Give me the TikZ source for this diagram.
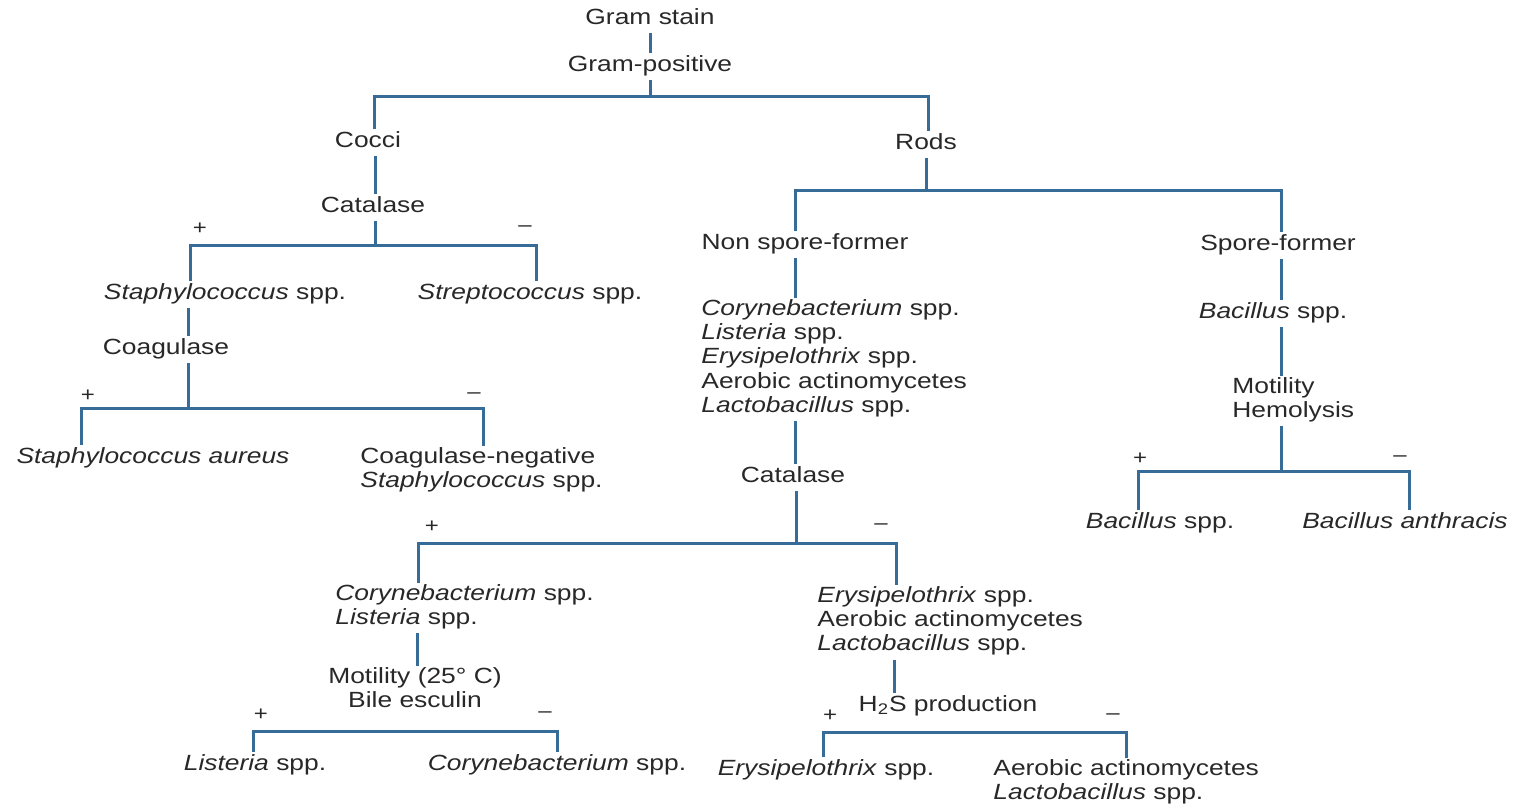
\documentclass[tikz,border=0pt]{standalone}
\usepackage{fontspec}
\setmainfont{Liberation Sans}[FakeStretch=1.2]
\definecolor{ln}{RGB}{55,108,152}
\definecolor{tx}{RGB}{40,40,40}
\tikzset{
  lbl/.style={inner xsep=2pt, inner ysep=0.5pt, text=tx, align=center,
    font=\fontsize{11}{12.15}\selectfont,
    execute at begin node=\strut, execute at end node=\strut},
  lft/.style={lbl, align=left, anchor=north west},
  ctr/.style={lbl, anchor=north},
  sgn/.style={inner sep=0pt, text=tx, font=\fontsize{10}{10}\selectfont},
  conn/.style={draw=ln, line width=1.5pt, line join=miter},
}
\begin{document}
\begin{tikzpicture}[x=0.5pt,y=-0.5pt]
\useasboundingbox[fill=white] (0,0) rectangle (1526,808);
% nodes
\node[ctr] (gs) at (650,6) {Gram stain};
\node[ctr] (gp) at (650,53) {Gram-positive};
\node[ctr] (cocci) at (368,129) {Cocci};
\node[ctr] (rods) at (926,131) {Rods};
\node[ctr] (catL) at (373,194) {Catalase};
\node[ctr] (staph) at (225,281) {\textit{Staphylococcus} spp.};
\node[ctr] (strep) at (530,281) {\textit{Streptococcus} spp.};
\node[ctr] (coag) at (166,336) {Coagulase};
\node[ctr] (saur) at (153,445) {\textit{Staphylococcus aureus}};
\node[lft] (cns) at (356,446) {Coagulase-negative\\\textit{Staphylococcus} spp.};
\node[ctr] (nsf) at (805,231) {Non spore-former};
\node[ctr] (sf) at (1278,232) {Spore-former};
\node[lft] (nsfl) at (697,298) {\textit{Corynebacterium} spp.\\\textit{Listeria} spp.\\\textit{Erysipelothrix} spp.\\Aerobic actinomycetes\\\textit{Lactobacillus} spp.};
\node[ctr] (bac1) at (1273,300) {\textit{Bacillus} spp.};
\node[lft] (mot) at (1228,376) {Motility\\Hemolysis};
\node[ctr] (bac2) at (1160,510) {\textit{Bacillus} spp.};
\node[ctr] (banth) at (1405,510) {\textit{Bacillus anthracis}};
\node[ctr] (catR) at (793,464) {Catalase};
\node[lft] (cl) at (331,583) {\textit{Corynebacterium} spp.\\\textit{Listeria} spp.};
\node[ctr] (mb) at (415,666) {Motility (25° C)\\Bile esculin};
\node[ctr] (lis) at (255,752) {\textit{Listeria} spp.};
\node[ctr] (cor) at (557,752) {\textit{Corynebacterium} spp.};
\node[lft] (eal) at (813,585) {\textit{Erysipelothrix} spp.\\Aerobic actinomycetes\\\textit{Lactobacillus} spp.};
\node[ctr] (h2s) at (948,693) {H\textsubscript{2}S production};
\node[ctr] (ery) at (826,757) {\textit{Erysipelothrix} spp.};
\node[lft] (al) at (989,758) {Aerobic actinomycetes\\\textit{Lactobacillus} spp.};
% signs
\node[sgn] (p1) at (200,229) {+};
\node[sgn] (m1) at (525,229) {–};
\node[sgn] (p2) at (88,396) {+};
\node[sgn] (m2) at (474,396) {–};
\node[sgn] (p3) at (1140,459) {+};
\node[sgn] (m3) at (1400,459) {–};
\node[sgn] (p4) at (432,527) {+};
\node[sgn] (m4) at (881,527) {–};
\node[sgn] (p5) at (261,715) {+};
\node[sgn] (m5) at (545,715) {–};
\node[sgn] (p6) at (830,716) {+};
\node[sgn] (m6) at (1113,717) {–};
% junctions and bar ends
\coordinate (j1) at (650,97);  \coordinate (b1l) at (374,97);  \coordinate (b1r) at (928,97);
\coordinate (j2) at (375,245); \coordinate (b2l) at (190,245); \coordinate (b2r) at (536,245);
\coordinate (j3) at (188,408); \coordinate (b3l) at (81,408);  \coordinate (b3r) at (483,408);
\coordinate (j4) at (926,190); \coordinate (b4l) at (795,190); \coordinate (b4r) at (1281,190);
\coordinate (j5) at (796,543); \coordinate (b5l) at (418,543); \coordinate (b5r) at (896,543);
\coordinate (j6) at (1281,471);\coordinate (b6l) at (1138,471);\coordinate (b6r) at (1409,471);
\coordinate (col7) at (417,731); \coordinate (b7l) at (253,731); \coordinate (b7r) at (557,731);
\coordinate (col8) at (894,732); \coordinate (b8l) at (823,732); \coordinate (b8r) at (1126,732);
% connectors
\draw[conn] (gs) -- (gp);
\draw[conn] (gp.south) -- (j1);
\draw[conn] (cocci.north -| b1l) -- (b1l) -- (b1r) -- (rods.north -| b1r);
\draw[conn] (cocci.south -| j2) -- (catL.north -| j2);
\draw[conn] (catL.south -| j2) -- (j2);
\draw[conn] (staph.north -| b2l) -- (b2l) -- (b2r) -- (strep.north -| b2r);
\draw[conn] (staph.south -| j3) -- (coag.north -| j3);
\draw[conn] (coag.south -| j3) -- (j3);
\draw[conn] (saur.north -| b3l) -- (b3l) -- (b3r) -- (cns.north -| b3r);
\draw[conn] (rods.south -| j4) -- (j4);
\draw[conn] (nsf.north -| b4l) -- (b4l) -- (b4r) -- (sf.north -| b4r);
\draw[conn] (nsf.south -| b4l) -- (nsfl.north -| b4l);
\draw[conn] (nsfl.south -| b4l) -- (catR.north -| b4l);
\draw[conn] (catR.south -| j5) -- (j5);
\draw[conn] (cl.north -| b5l) -- (b5l) -- (b5r) -- (eal.north -| b5r);
\draw[conn] (sf.south -| b4r) -- (bac1.north -| b4r);
\draw[conn] (bac1.south -| j6) -- (mot.north -| j6);
\draw[conn] (mot.south -| j6) -- (j6);
\draw[conn] (bac2.north -| b6l) -- (b6l) -- (b6r) -- (banth.north -| b6r);
\draw[conn] (cl.south -| col7) -- (mb.north -| col7);
\draw[conn] (lis.north -| b7l) -- (b7l) -- (b7r) -- (cor.north -| b7r);
\draw[conn] (eal.south -| col8) -- (h2s.north -| col8);
\draw[conn] (ery.north -| b8l) -- (b8l) -- (b8r) -- (al.north -| b8r);
\end{tikzpicture}
\end{document}
